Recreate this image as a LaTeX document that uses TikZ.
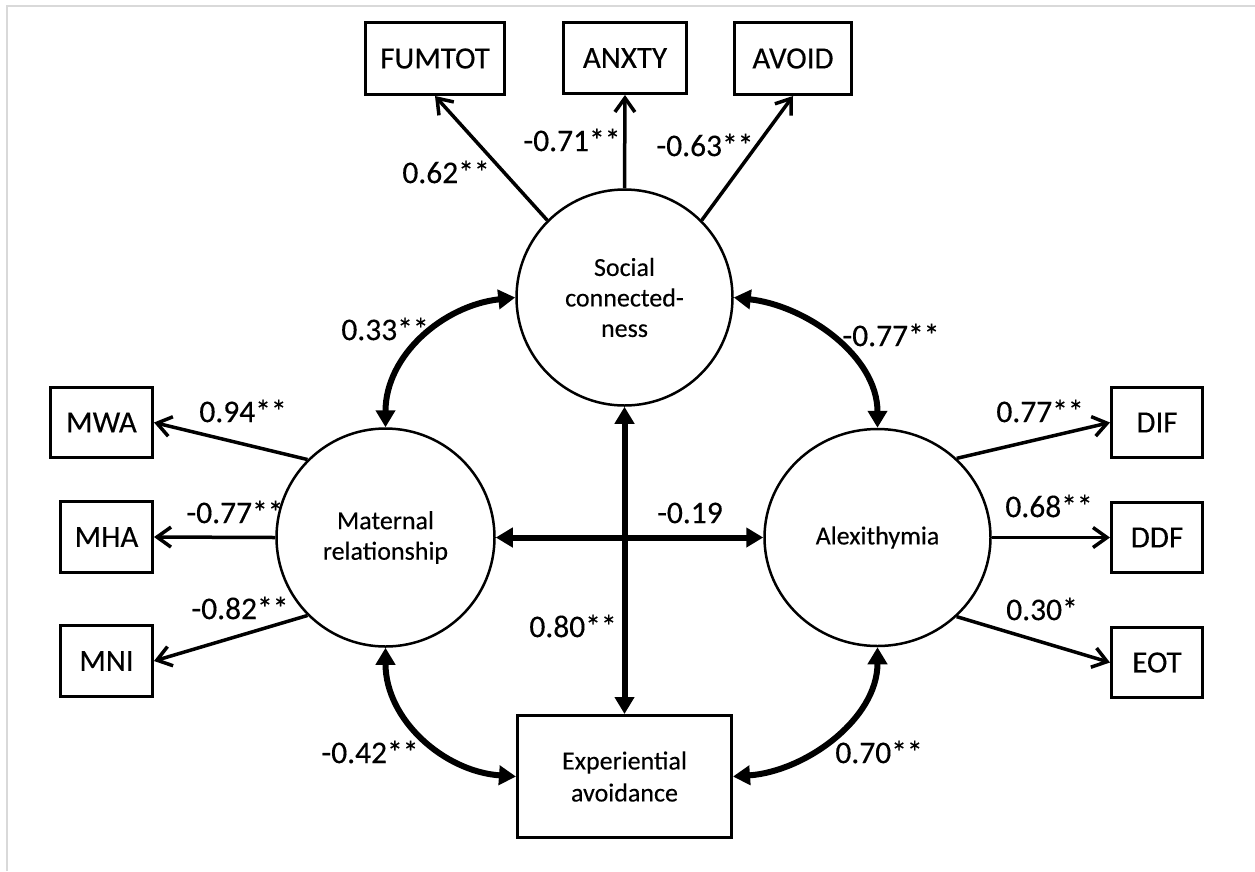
\documentclass[tikz,border=0pt]{standalone}
\usepackage{fontspec}
\setmainfont{Carlito}[FakeBold=0.25]
\usetikzlibrary{arrows.meta,shapes.geometric}
\begin{document}
\begin{tikzpicture}[x=1pt,y=-1pt,
  box/.style={draw, line width=3pt, inner sep=0pt, font=\fontsize{31}{37}\selectfont},
  lat/.style={draw, circle, line width=2.5pt, inner sep=0pt, minimum size=216pt, align=center, font=\fontsize{26}{30.5}\selectfont},
  load/.style={line width=3.5pt, -{Straight Barb[length=14pt,width=20pt]}},
  cov/.style={line width=6pt, {Triangle[length=17pt,width=19pt]}-{Triangle[length=17pt,width=19pt]}},
  coef/.style={inner sep=0pt, font=\fontsize{31.5}{37}\selectfont},
]
\useasboundingbox (0,0) rectangle (1255,871);
\fill[white] (0,0) rectangle (1255,871);
\draw[black!15, line width=1.5pt] (7,871) -- (7,6) -- (1255,6);

% indicator boxes
\node[box, minimum width=139pt, minimum height=72pt] (fum) at (435,58.5) {FUMTOT};
\node[box, minimum width=123pt, minimum height=71pt] (anx) at (625,58) {ANXTY};
\node[box, minimum width=117pt, minimum height=72pt] (avo) at (793,58.5) {AVOID};
\node[box, minimum width=102pt, minimum height=70pt] (mwa) at (101.5,422.5) {MWA};
\node[box, minimum width=92pt, minimum height=71pt] (mha) at (106.5,537) {MHA};
\node[box, minimum width=92pt, minimum height=71pt] (mni) at (106.5,661) {MNI};
\node[box, minimum width=91pt, minimum height=70pt] (dif) at (1157,422.5) {DIF};
\node[box, minimum width=91pt, minimum height=70pt] (ddf) at (1157,537.5) {DDF};
\node[box, minimum width=91pt, minimum height=70pt] (eot) at (1157,662.5) {EOT};

% latent variables
\node[lat] (soc) at (624.5,297.5) {Social\\connected-\\ness};
\node[lat, minimum size=218pt] (mat) at (385.5,537.5) {Maternal\\relationship};
\node[draw, ellipse, line width=2.5pt, inner sep=0pt, minimum width=226pt, minimum height=217pt, font=\fontsize{26}{30.5}\selectfont] (alx) at (877.5,537.5) {Alexithymia};
\node[box, minimum width=214pt, minimum height=122pt, align=center, font=\fontsize{26}{32}\selectfont] (ea) at (624.5,776.5) {Experiential\\avoidance};

% loadings
\draw[load] (soc.135) -- (fum.south);
\draw[load] (soc.north) -- (anx.south);
\draw[load] (soc.45) -- (avo.south);
\draw[load] (mat.135) -- (mwa.east);
\draw[load] (mat.west) -- (mha.east);
\draw[load] (mat.-135) -- (mni.east);
\draw[load] (alx.45) -- (dif.west);
\draw[load] (alx.east) -- (ddf.west);
\draw[load] (alx.-45) -- (eot.west);

% covariances
\draw[cov] (mat.east) -- (alx.west);
\draw[cov] (soc.south) -- (ea.north);
\draw[cov] (soc.west) .. controls +(-72,8) and +(0,-72) .. (mat.north);
\draw[cov] (soc.east) .. controls +(72,8) and +(0,-72) .. (alx.north);
\draw[cov] (mat.south) .. controls +(0,72) and +(-72,-5) .. (ea.west);
\draw[cov] (alx.south) .. controls +(0,72) and +(72,-5) .. (ea.east);

% coefficients
\node[coef] (c1) at (446,172) {0.62**};
\node[coef] (c2) at (572,140) {-0.71**};
\node[coef] (c3) at (705,145) {-0.63**};
\node[coef] (c4) at (385,329) {0.33**};
\node[coef] (c5) at (891,335) {-0.77**};
\node[coef] (c6) at (243,411) {0.94**};
\node[coef] (c7) at (235,512) {-0.77**};
\node[coef] (c8) at (240,608) {-0.82**};
\node[coef] (c9) at (690,513) {-0.19};
\node[coef] (c10) at (573,626) {0.80**};
\node[coef] (c11) at (1040,411) {0.77**};
\node[coef] (c12) at (1049,506) {0.68**};
\node[coef] (c13) at (1042,609) {0.30*};
\node[coef] (c14) at (370,752) {-0.42**};
\node[coef] (c15) at (879,752) {0.70**};
\end{tikzpicture}
\end{document}
